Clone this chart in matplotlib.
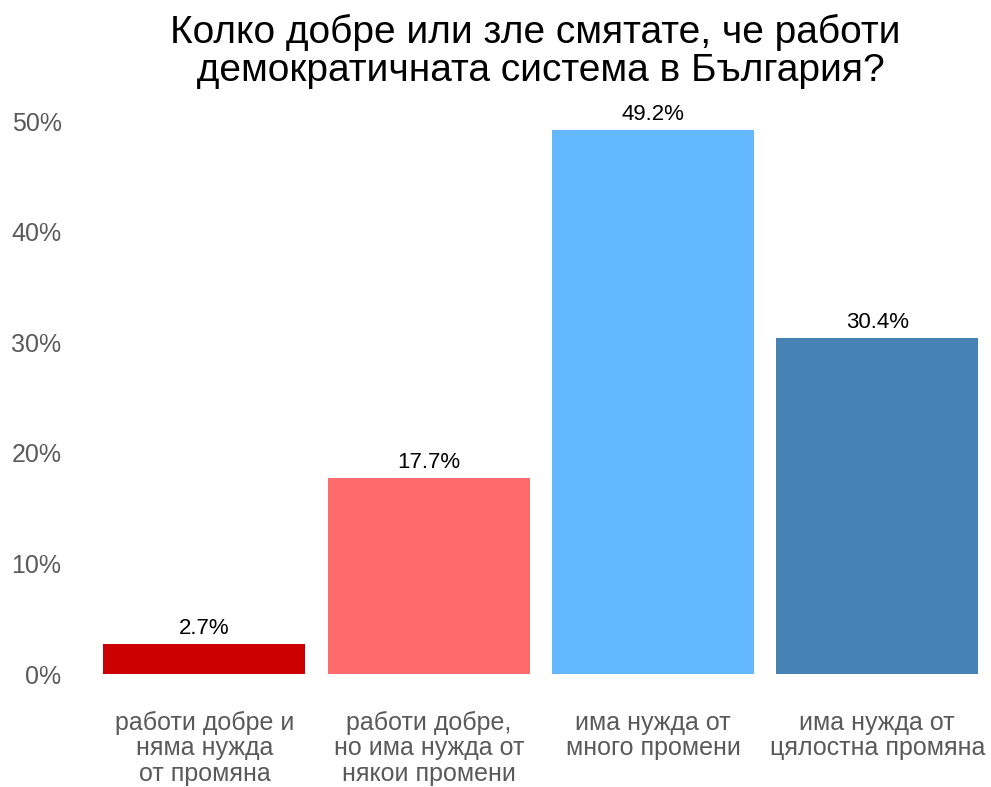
import matplotlib
matplotlib.use('Agg')
import matplotlib.pyplot as plt

# данни
categories = ['работи добре и\nняма нужда\nот промяна',
              'работи добре,\nно има нужда от\nнякои промени',
              'има нужда от\nмного промени',
              'има нужда от\nцялостна промяна']
values = [2.7, 17.7, 49.2, 30.4]
colors = ['#CC0000', '#FF6A6A', '#63B8FF', '#4682B4']
yticks = [0, 10, 20, 30, 40, 50]
title = 'Колко добре или зле смятате, че работи\n демократичната система в България?'

plt.rcParams['font.family'] = ['Liberation Sans', 'DejaVu Sans']

fig = plt.figure(figsize=(9.91, 7.87), dpi=100)
ax = fig.add_axes([0.0818, 0.109, 0.9166, 0.760])

x = list(range(1, len(values) + 1))
ax.bar(x, values, width=0.9, color=colors)
for xi, v in zip(x, values):
    ax.text(xi, v + 0.5, f'{v:.1f}%', ha='center', va='bottom',
            fontsize=16, color='black')

ax.set_xlim(0.45, 4.5)
ax.set_ylim(-2.46, 51.66)
ax.set_yticks(yticks)
ax.set_yticklabels([f'{t}%' for t in yticks])
ax.set_xticks(x)
ax.set_xticklabels(categories, linespacing=1.08)
ax.tick_params(axis='both', length=0, colors='#5a5a5a', labelsize=18)
ax.tick_params(axis='x', pad=7)
ax.tick_params(axis='y', pad=14)
for s in ax.spines.values():
    s.set_visible(False)

fig.text(0.54, 0.982, title, ha='center', va='top', fontsize=28,
         linespacing=1.08)

plt.savefig('out.png')
